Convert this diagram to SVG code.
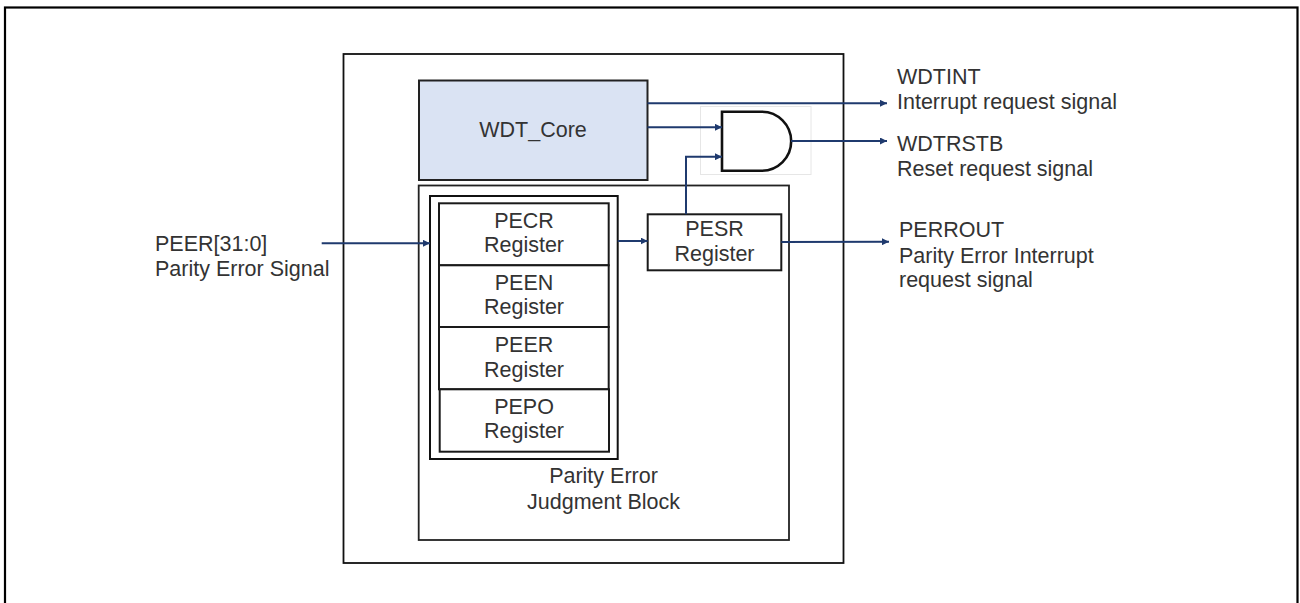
<svg xmlns="http://www.w3.org/2000/svg" width="1300" height="603" viewBox="0 0 1300 603">
  <defs>
    <marker id="arr" viewBox="0 0 10 10" refX="10" refY="5" markerWidth="7" markerHeight="7" markerUnits="userSpaceOnUse" orient="auto">
      <path d="M0,0 L10,5 L0,10 Z" fill="#1f3a6e"/>
    </marker>
    <style>
      .t { font-family: "Liberation Sans", Arial, sans-serif; font-size: 21.5px; fill: #333333; }
      .c { text-anchor: middle; }
      .box { fill: #ffffff; stroke: #1a1a1a; stroke-width: 2; }
      .wire { fill: none; stroke: #1f3a6e; stroke-width: 2; }
    </style>
  </defs>
  <rect x="0" y="0" width="1300" height="603" fill="#ffffff"/>
  <rect id="frame" x="5" y="7.5" width="1292.5" height="640" fill="none" stroke="#000" stroke-width="2.2"/>

  <g id="main-block">
    <rect x="343.5" y="54" width="500" height="509" fill="none" stroke="#111" stroke-width="1.8"/>
  </g>

  <g id="wdt-core">
    <rect x="419" y="80.5" width="228.5" height="99.5" fill="#dae3f3" stroke="#222" stroke-width="2"/>
    <text class="t c" x="533" y="137">WDT_Core</text>
  </g>

  <g id="and-gate">
    <rect x="700.5" y="106.5" width="110.5" height="68" fill="#ffffff" stroke="#e6e6e6" stroke-width="1"/>
    <path d="M722,111.7 H761.7 A29.5,29.5 0 0 1 761.7,170.7 H722 Z" fill="#ffffff" stroke="#111" stroke-width="2.6"/>
  </g>

  <g id="parity-block">
    <rect x="418.7" y="185.5" width="370.3" height="354.5" fill="none" stroke="#222" stroke-width="1.8"/>
    <text class="t c" x="603.5" y="483">Parity Error</text>
    <text class="t c" x="603.5" y="508.5">Judgment Block</text>
  </g>

  <g id="register-stack">
    <rect x="430" y="196" width="187.7" height="263" fill="none" stroke="#111" stroke-width="2"/>
  </g>

  <g id="pecr">
    <rect class="box" x="439" y="203.3" width="169.7" height="62"/>
    <text class="t c" x="524" y="227.7">PECR</text>
    <text class="t c" x="524" y="252.3">Register</text>
  </g>
  <g id="peen">
    <rect class="box" x="439" y="265.3" width="169.7" height="61.7"/>
    <text class="t c" x="524" y="290">PEEN</text>
    <text class="t c" x="524" y="314.3">Register</text>
  </g>
  <g id="peer">
    <rect class="box" x="439" y="327" width="169.7" height="62.3"/>
    <text class="t c" x="524" y="351.7">PEER</text>
    <text class="t c" x="524" y="376.7">Register</text>
  </g>
  <g id="pepo">
    <rect class="box" x="439.7" y="389.3" width="169.3" height="62.4"/>
    <text class="t c" x="524" y="414">PEPO</text>
    <text class="t c" x="524" y="438.3">Register</text>
  </g>

  <g id="pesr">
    <rect class="box" x="647.7" y="214.3" width="133.6" height="56"/>
    <text class="t c" x="714.5" y="235.7">PESR</text>
    <text class="t c" x="714.5" y="261">Register</text>
  </g>

  <g id="connectors">
    <line class="wire" x1="647.5" y1="103.3" x2="887" y2="103.3" marker-end="url(#arr)"/>
    <line class="wire" x1="647.5" y1="127.3" x2="722" y2="127.3" marker-end="url(#arr)"/>
    <polyline class="wire" points="686,214.3 686,156.7 722,156.7" marker-end="url(#arr)"/>
    <line class="wire" x1="791" y1="141" x2="887" y2="141" marker-end="url(#arr)"/>
    <line class="wire" x1="321.7" y1="243.3" x2="430" y2="243.3" marker-end="url(#arr)"/>
    <line class="wire" x1="617.7" y1="241" x2="647.7" y2="241" marker-end="url(#arr)"/>
    <line class="wire" x1="781.3" y1="242" x2="889" y2="241.7" marker-end="url(#arr)"/>
  </g>

  <g id="labels">
    <text class="t" x="155" y="250.7">PEER[31:0]</text>
    <text class="t" x="155" y="275.7">Parity Error Signal</text>
    <text class="t" x="897" y="84">WDTINT</text>
    <text class="t" x="897" y="109">Interrupt request signal</text>
    <text class="t" x="897" y="151">WDTRSTB</text>
    <text class="t" x="897" y="175.7">Reset request signal</text>
    <text class="t" x="899" y="237.3">PERROUT</text>
    <text class="t" x="899" y="262.7">Parity Error Interrupt</text>
    <text class="t" x="899" y="286.7">request signal</text>
  </g>
</svg>
